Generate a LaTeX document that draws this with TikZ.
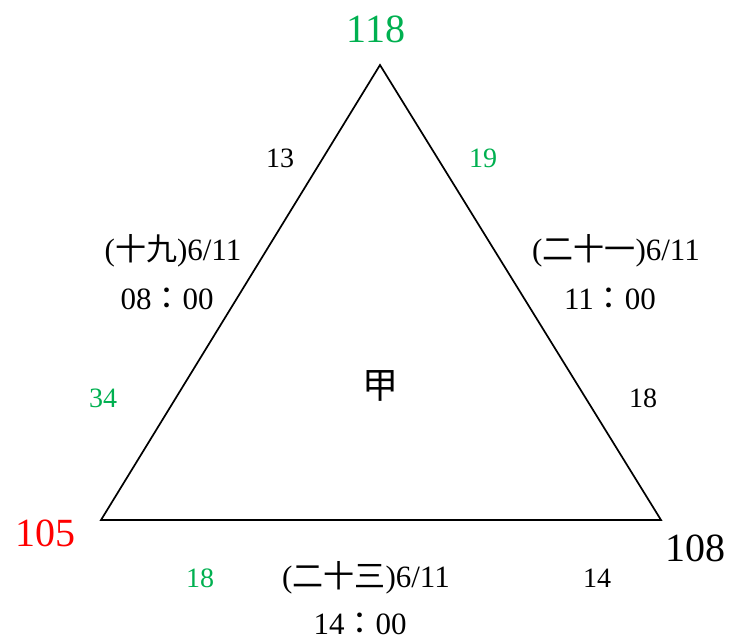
\documentclass[tikz,border=0pt]{standalone}
\usepackage{fontspec}
\setmainfont{Liberation Serif}
\newfontfamily\cjk{Noto Sans CJK TC}
\definecolor{ggreen}{RGB}{0,176,80}
\begin{document}
\begin{tikzpicture}[x=1pt,y=-1pt,
  lab/.style={font=\fontsize{28}{30}\selectfont, inner sep=0pt, anchor=center},
  dat/.style={font=\fontsize{31}{33}\selectfont, inner sep=0pt, anchor=center},
  big/.style={font=\fontsize{40}{42}\selectfont, inner sep=0pt, anchor=center},
  g/.style={text=ggreen}]
\useasboundingbox (0,0) rectangle (747,640);
\coordinate (T) at (380,65);
\coordinate (L) at (101,520);
\coordinate (R) at (661,520);
\draw[line width=1.7pt, line join=miter] (T) -- (R) -- (L) -- cycle;
\node[big,g] (n118) at (376,29) {118};
\node[big,text=red] (n105) at (45,533) {105};
\node[big] (n108) at (695,548) {108};
\node[lab] (a13) at (280,158) {13};
\node[lab,g] (a19) at (483,158) {19};
\node[dat] (d1) at (173,251) {(\cjk 十九\rmfamily)6/11};
\node[dat] (t1) at (167,299) {08\cjk ：\rmfamily 00};
\node[dat] (d2) at (616,251) {(\cjk 二十一\rmfamily)6/11};
\node[dat] (t2) at (610,299) {11\cjk ：\rmfamily 00};
\node[lab,g] (a34) at (103,398) {34};
\node[lab] (a18r) at (643,398) {18};
\node[font=\fontsize{36}{38}\selectfont, inner sep=0pt] (jia) at (380,386) {\cjk 甲};
\node[lab,g] (a18l) at (200,578) {18};
\node[dat] (d3) at (366,578) {(\cjk 二十三\rmfamily)6/11};
\node[dat] (t3) at (360,624) {14\cjk ：\rmfamily 00};
\node[lab] (a14) at (597,578) {14};
\end{tikzpicture}
\end{document}
